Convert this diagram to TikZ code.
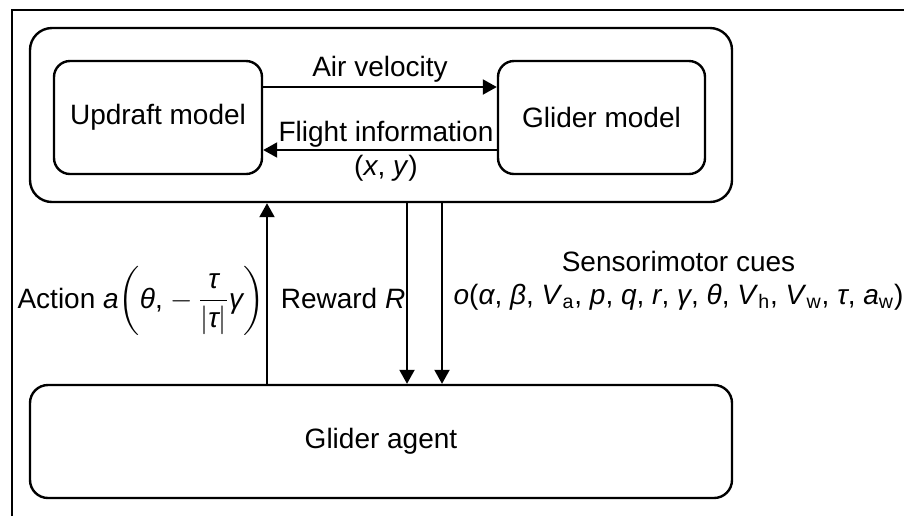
\documentclass[tikz,border=0pt]{standalone}
\usepackage{fontspec}
\setmainfont{Liberation Sans}
\usepackage{amsmath}
\usetikzlibrary{positioning,arrows.meta}

\begin{document}
\begin{tikzpicture}[x=0.5pt,y=-0.5pt,
  font=\fontsize{14}{16.5}\selectfont,
  block/.style={draw, line width=1.2pt, rounded corners=8pt, minimum width=104pt, minimum height=56.5pt},
  flow/.style={line width=1pt, -{Triangle[length=7pt,width=7.5pt]}}]
\useasboundingbox (0,0) rectangle (904,516);
\draw[line width=1.3pt] (12,516) -- (12,10) -- (904,10);
\node[block, minimum width=351pt, minimum height=87pt, rounded corners=11pt] (env) at (381,115) {};
\node[block] (updraft) at (158,117.5) {Updraft model};
\node[block, minimum width=103.5pt] (glider) at (601.5,117.5) {Glider model};
\node[block, minimum width=351pt, rounded corners=9pt] (agent) at (381,441.5) {Glider agent};
\draw[flow] ([yshift=15.25pt]updraft.east) -- node[above=-1.5pt] {Air velocity} ([yshift=15.25pt]glider.west);
\draw[flow] ([yshift=-16.25pt]glider.west) -- node[above=-2.5pt, xshift=3pt] {Flight information}
  node[below=-1pt, xshift=3pt] {(\textit{x}, \textit{y})} ([yshift=-16.25pt]updraft.east);
\draw[flow] ([xshift=-57pt]agent.north) -- node[left=-2.5pt, pos=0.459]
  {Action \textit{a}$\left(\textit{θ}\text{, }{-}\,\dfrac{\textit{τ}}{|\textit{τ}|}\textit{γ}\right)$}
  ([xshift=-57pt]env.south);
\draw[flow] ([xshift=13pt]env.south) -- node[left=-3pt, pos=0.525] {Reward \textit{R}} ([xshift=13pt]agent.north);
\draw[flow] ([xshift=30.5pt]env.south) -- node[right=2pt, pos=0.43, align=center]
  {Sensorimotor cues\\ \textit{o}(\textit{α}, \textit{β}, \textit{V}\textsubscript{a}, \textit{p}, \textit{q}, \textit{r}, \textit{γ}, \textit{θ}, \textit{V}\textsubscript{h}, \textit{V}\textsubscript{w}, \textit{τ}, \textit{a}\textsubscript{w})}
  ([xshift=30.5pt]agent.north);
\end{tikzpicture}
\end{document}
